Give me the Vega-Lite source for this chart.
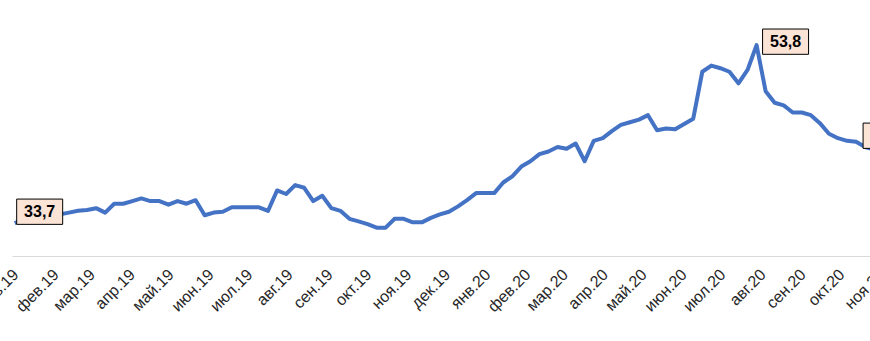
{
  "$schema": "https://vega.github.io/schema/vega-lite/v6.json",
  "autosize": "none",
  "width": 870,
  "height": 256,
  "padding": {"left": 0, "top": 0, "right": 0, "bottom": 85},
  "background": "white",
  "config": {
    "view": {"stroke": null},
    "locale": {"number": {"decimal": ",", "thousands": " ", "grouping": [3], "currency": ["", ""]}}
  },
  "data": {
    "values": [
      {"d": "2018-12-31", "v": 33.7}, {"d": "2019-01-07", "v": 34.1}, {"d": "2019-01-14", "v": 34.2}, {"d": "2019-01-21", "v": 34.4},
      {"d": "2019-01-28", "v": 34.6}, {"d": "2019-02-04", "v": 34.7}, {"d": "2019-02-11", "v": 34.9}, {"d": "2019-02-18", "v": 35.1},
      {"d": "2019-02-25", "v": 35.2}, {"d": "2019-03-04", "v": 35.4}, {"d": "2019-03-11", "v": 34.9}, {"d": "2019-03-18", "v": 35.9},
      {"d": "2019-03-25", "v": 35.9}, {"d": "2019-04-01", "v": 36.2}, {"d": "2019-04-08", "v": 36.5}, {"d": "2019-04-15", "v": 36.2},
      {"d": "2019-04-22", "v": 36.2}, {"d": "2019-04-29", "v": 35.8}, {"d": "2019-05-06", "v": 36.2}, {"d": "2019-05-13", "v": 35.9},
      {"d": "2019-05-20", "v": 36.3}, {"d": "2019-05-27", "v": 34.6}, {"d": "2019-06-03", "v": 34.9}, {"d": "2019-06-10", "v": 35.0},
      {"d": "2019-06-17", "v": 35.5}, {"d": "2019-06-24", "v": 35.5}, {"d": "2019-07-01", "v": 35.5}, {"d": "2019-07-08", "v": 35.5},
      {"d": "2019-07-15", "v": 35.1}, {"d": "2019-07-22", "v": 37.4}, {"d": "2019-07-29", "v": 37.0}, {"d": "2019-08-05", "v": 38.0},
      {"d": "2019-08-12", "v": 37.7}, {"d": "2019-08-19", "v": 36.2}, {"d": "2019-08-26", "v": 36.8}, {"d": "2019-09-02", "v": 35.4},
      {"d": "2019-09-09", "v": 35.1}, {"d": "2019-09-16", "v": 34.2}, {"d": "2019-09-23", "v": 33.9}, {"d": "2019-09-30", "v": 33.6},
      {"d": "2019-10-07", "v": 33.2}, {"d": "2019-10-14", "v": 33.2}, {"d": "2019-10-21", "v": 34.2}, {"d": "2019-10-28", "v": 34.2},
      {"d": "2019-11-04", "v": 33.8}, {"d": "2019-11-11", "v": 33.8}, {"d": "2019-11-18", "v": 34.3}, {"d": "2019-11-25", "v": 34.7},
      {"d": "2019-12-02", "v": 35.0}, {"d": "2019-12-09", "v": 35.6}, {"d": "2019-12-16", "v": 36.3}, {"d": "2019-12-23", "v": 37.1},
      {"d": "2019-12-30", "v": 37.1}, {"d": "2020-01-06", "v": 37.1}, {"d": "2020-01-13", "v": 38.3}, {"d": "2020-01-20", "v": 39.0},
      {"d": "2020-01-27", "v": 40.1}, {"d": "2020-02-03", "v": 40.7}, {"d": "2020-02-10", "v": 41.5}, {"d": "2020-02-17", "v": 41.8},
      {"d": "2020-02-24", "v": 42.3}, {"d": "2020-03-02", "v": 42.1}, {"d": "2020-03-09", "v": 42.7}, {"d": "2020-03-16", "v": 40.7},
      {"d": "2020-03-23", "v": 43.0}, {"d": "2020-03-30", "v": 43.3}, {"d": "2020-04-06", "v": 44.1}, {"d": "2020-04-13", "v": 44.8},
      {"d": "2020-04-20", "v": 45.1}, {"d": "2020-04-27", "v": 45.4}, {"d": "2020-05-04", "v": 45.9}, {"d": "2020-05-11", "v": 44.2},
      {"d": "2020-05-18", "v": 44.4}, {"d": "2020-05-25", "v": 44.3}, {"d": "2020-06-01", "v": 44.9}, {"d": "2020-06-08", "v": 45.5},
      {"d": "2020-06-15", "v": 50.8}, {"d": "2020-06-22", "v": 51.5}, {"d": "2020-06-29", "v": 51.2}, {"d": "2020-07-06", "v": 50.8},
      {"d": "2020-07-13", "v": 49.5}, {"d": "2020-07-20", "v": 51.0}, {"d": "2020-07-27", "v": 53.8}, {"d": "2020-08-03", "v": 48.6},
      {"d": "2020-08-10", "v": 47.3}, {"d": "2020-08-17", "v": 47.0}, {"d": "2020-08-24", "v": 46.2}, {"d": "2020-08-31", "v": 46.2},
      {"d": "2020-09-07", "v": 45.9}, {"d": "2020-09-14", "v": 45.0}, {"d": "2020-09-21", "v": 43.8}, {"d": "2020-09-28", "v": 43.3},
      {"d": "2020-10-05", "v": 43.0}, {"d": "2020-10-12", "v": 42.9}, {"d": "2020-10-19", "v": 42.3}, {"d": "2020-10-26", "v": 42.0}
    ]
  },
  "encoding": {
    "x": {
      "field": "d", "type": "temporal",
      "scale": {"type": "utc", "domain": [{"year": 2018, "month": 12, "date": 29, "utc": true}, {"year": 2020, "month": 11, "date": 20, "utc": true}], "range": [12.1, 906.5]},
      "axis": {
        "title": null, "ticks": false, "grid": false,
        "domainColor": "#D9D9D9", "domainWidth": 1.2,
        "tickCount": {"interval": "month", "step": 1},
        "labelExpr": "['янв','фев','мар','апр','май','июн','июл','авг','сен','окт','ноя','дек'][utcmonth(datum.value)] + '.' + utcFormat(datum.value, '%y')",
        "labelAngle": -45, "labelFont": "Liberation Sans", "labelFontSize": 16, "labelColor": "#262626",
        "labelPadding": 10, "labelOffset": -6, "labelOverlap": false, "labelBound": false, "labelFlush": false
      }
    },
    "y": {
      "field": "v", "type": "quantitative",
      "scale": {"domain": [30, 58.9], "nice": false, "zero": false},
      "axis": null
    }
  },
  "layer": [
    {"mark": {"type": "line", "color": "#4472C4", "strokeWidth": 4, "strokeJoin": "round"}},
    {
      "transform": [{"filter": {"field": "v", "equal": 33.7}}],
      "layer": [
        {"mark": {"type": "point", "shape": "M-1,-0.55H1V0.55H-1Z", "size": 2116, "filled": true, "fill": "#FBE3D6", "stroke": "black", "strokeWidth": 1, "opacity": 1, "xOffset": 25, "yOffset": -11.5}},
        {"mark": {"type": "text", "font": "Liberation Sans", "fontSize": 16, "fontWeight": "bold", "color": "black", "align": "center", "baseline": "middle", "xOffset": 25, "yOffset": -10.8}, "encoding": {"text": {"field": "v", "type": "quantitative", "format": ".1f"}}}
      ]
    },
    {
      "transform": [{"filter": {"field": "v", "equal": 53.8}}],
      "layer": [
        {"mark": {"type": "point", "shape": "M-1,-0.55H1V0.55H-1Z", "size": 2116, "filled": true, "fill": "#FBE3D6", "stroke": "black", "strokeWidth": 1, "opacity": 1, "xOffset": 29, "yOffset": -3.5}},
        {"mark": {"type": "text", "font": "Liberation Sans", "fontSize": 16, "fontWeight": "bold", "color": "black", "align": "center", "baseline": "middle", "xOffset": 29, "yOffset": -2.8}, "encoding": {"text": {"field": "v", "type": "quantitative", "format": ".1f"}}}
      ]
    },
    {
      "transform": [{"filter": {"field": "v", "equal": 42.9}}],
      "layer": [
        {"mark": {"type": "point", "shape": "M-1,-0.55H1V0.55H-1Z", "size": 2116, "filled": true, "fill": "#FBE3D6", "stroke": "black", "strokeWidth": 1, "opacity": 1, "xOffset": 30, "yOffset": -6}},
        {"mark": {"type": "text", "font": "Liberation Sans", "fontSize": 16, "fontWeight": "bold", "color": "black", "align": "center", "baseline": "middle", "xOffset": 30, "yOffset": -5.3}, "encoding": {"text": {"field": "v", "type": "quantitative", "format": ".1f"}}}
      ]
    }
  ]
}
